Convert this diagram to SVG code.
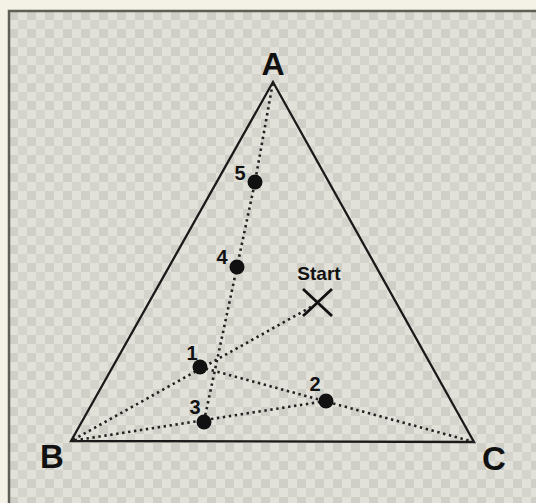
<svg xmlns="http://www.w3.org/2000/svg" width="536" height="503" viewBox="0 0 536 503">
<defs>
<pattern id="chk" x="9" y="11" width="18" height="18" patternUnits="userSpaceOnUse">
<rect width="18" height="18" fill="#e2e1d9"/>
<rect x="0" y="0" width="9" height="9" fill="#d0cfc7"/>
<rect x="9" y="9" width="9" height="9" fill="#d5d4cc"/>
</pattern>
<style>
.edge{fill:none;stroke:#1a1a1a;stroke-width:2.3}
.path{fill:none;stroke:#222;stroke-width:2.6;stroke-dasharray:2.4 3.6}
.dot{fill:#111}
.lbl{font-family:"Liberation Sans",Arial,sans-serif;font-weight:bold;fill:#111}
</style>
</defs>
<rect width="536" height="503" fill="#f4f2e6"/>
<rect x="9" y="11" width="527" height="492" fill="url(#chk)"/>
<path d="M9 503 V11 H536" fill="none" stroke="#5f5f58" stroke-width="2.5"/>
<g id="triangle"><path class="edge" d="M273 82 L71 441 L474 442 Z"/></g>
<g id="connectors">
<path class="path" d="M311 307 L71 441"/>
<path class="path" d="M200 367 L474 442"/>
<path class="path" d="M326 401 L71 441"/>
<path class="path" d="M204 421 L237 267 L255 182 L273 82"/>
</g>
<g id="A"><text class="lbl" x="273" y="75" font-size="32" text-anchor="middle">A</text></g>
<g id="B"><text class="lbl" x="52" y="468" font-size="33" text-anchor="middle">B</text></g>
<g id="C"><text class="lbl" x="494" y="470" font-size="33" text-anchor="middle">C</text></g>
<g id="start"><text class="lbl" x="319" y="280" font-size="19" text-anchor="middle">Start</text>
<path d="M303 289 L332 316 M332 289 L303 316" stroke="#111" stroke-width="2.8" fill="none"/></g>
<g id="p1"><circle class="dot" cx="200" cy="367" r="7.5"/><text class="lbl" x="192" y="360" font-size="20" text-anchor="middle">1</text></g>
<g id="p2"><circle class="dot" cx="326" cy="401" r="7.5"/><text class="lbl" x="315" y="391" font-size="20" text-anchor="middle">2</text></g>
<g id="p3"><circle class="dot" cx="204" cy="422" r="7.5"/><text class="lbl" x="195" y="414" font-size="20" text-anchor="middle">3</text></g>
<g id="p4"><circle class="dot" cx="237" cy="267" r="7.5"/><text class="lbl" x="222" y="264" font-size="20" text-anchor="middle">4</text></g>
<g id="p5"><circle class="dot" cx="255" cy="182" r="7.5"/><text class="lbl" x="240" y="180" font-size="20" text-anchor="middle">5</text></g>
</svg>
